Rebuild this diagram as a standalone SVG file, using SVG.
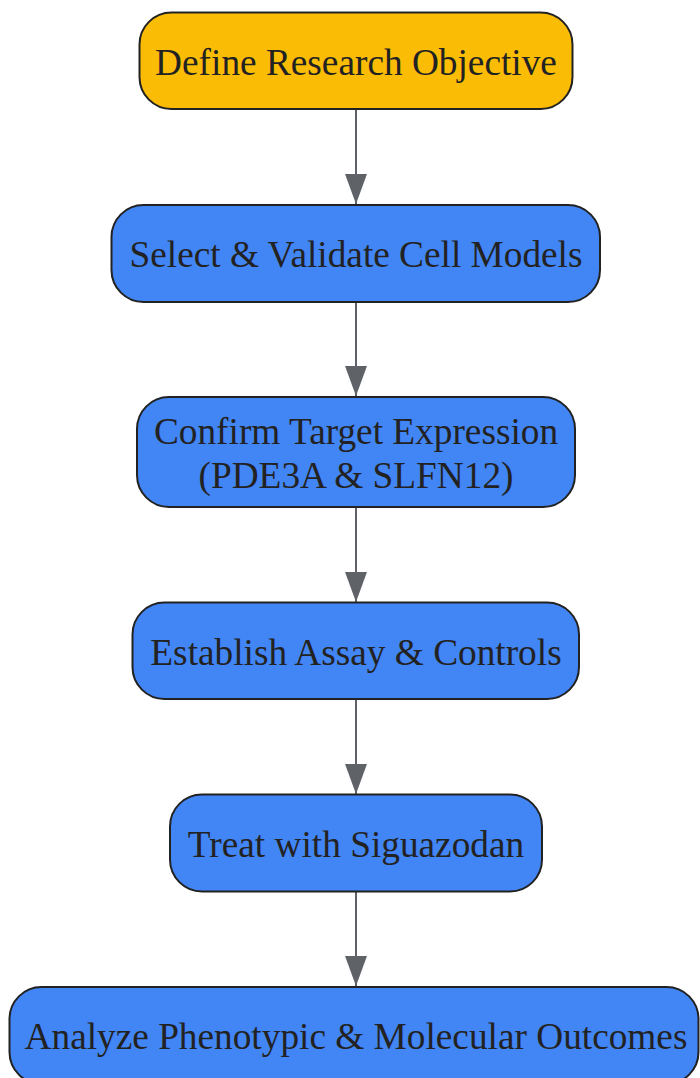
<svg xmlns="http://www.w3.org/2000/svg" width="700" height="1078" viewBox="0 0 700 1078">
  <style>
    .node rect { stroke: #222222; stroke-width: 2; }
    .start rect { fill: #FBBC05; }
    .step rect { fill: #4285F4; }
    .node text { font-family: "Liberation Serif", "Times New Roman", serif; font-size: 37.3px; fill: #222222; text-anchor: middle; }
    .edge { stroke: #5f6368; stroke-width: 2; fill: none; marker-end: url(#arrow); }
  </style>
  <defs>
    <marker id="arrow" viewBox="0 0 30 22" refX="30" refY="11" markerWidth="30" markerHeight="22" markerUnits="userSpaceOnUse" orient="auto">
      <path d="M0,0 L30,11 L0,22 Z" fill="#5f6368"/>
    </marker>
  </defs>
  <rect width="700" height="1078" fill="#ffffff"/>
  <g id="connectors">
    <line class="edge" x1="356" y1="110" x2="356" y2="204"/>
    <line class="edge" x1="356" y1="303" x2="356" y2="396"/>
    <line class="edge" x1="356" y1="508" x2="356" y2="602"/>
    <line class="edge" x1="356" y1="700" x2="356" y2="794"/>
    <line class="edge" x1="356" y1="892" x2="356" y2="986"/>
  </g>
  <g id="n1" class="node start">
    <rect x="139.5" y="12.5" width="433" height="96.5" rx="32" ry="32"/>
    <text x="356" y="75">Define Research Objective</text>
  </g>
  <g id="n2" class="node step">
    <rect x="111.5" y="205" width="488.5" height="97" rx="32" ry="32"/>
    <text x="356" y="267">Select &amp; Validate Cell Models</text>
  </g>
  <g id="n3" class="node step">
    <rect x="137" y="397" width="438" height="110" rx="32" ry="32"/>
    <text x="356" y="444">Confirm Target Expression</text>
    <text x="356" y="488">(PDE3A &amp; SLFN12)</text>
  </g>
  <g id="n4" class="node step">
    <rect x="132.5" y="602.5" width="446.5" height="96.5" rx="32" ry="32"/>
    <text x="356" y="665">Establish Assay &amp; Controls</text>
  </g>
  <g id="n5" class="node step">
    <rect x="170" y="794.5" width="372" height="97" rx="32" ry="32"/>
    <text x="356" y="857">Treat with Siguazodan</text>
  </g>
  <g id="n6" class="node step">
    <rect x="9.5" y="987" width="689" height="97" rx="32" ry="32"/>
    <text x="356" y="1049">Analyze Phenotypic &amp; Molecular Outcomes</text>
  </g>
</svg>
